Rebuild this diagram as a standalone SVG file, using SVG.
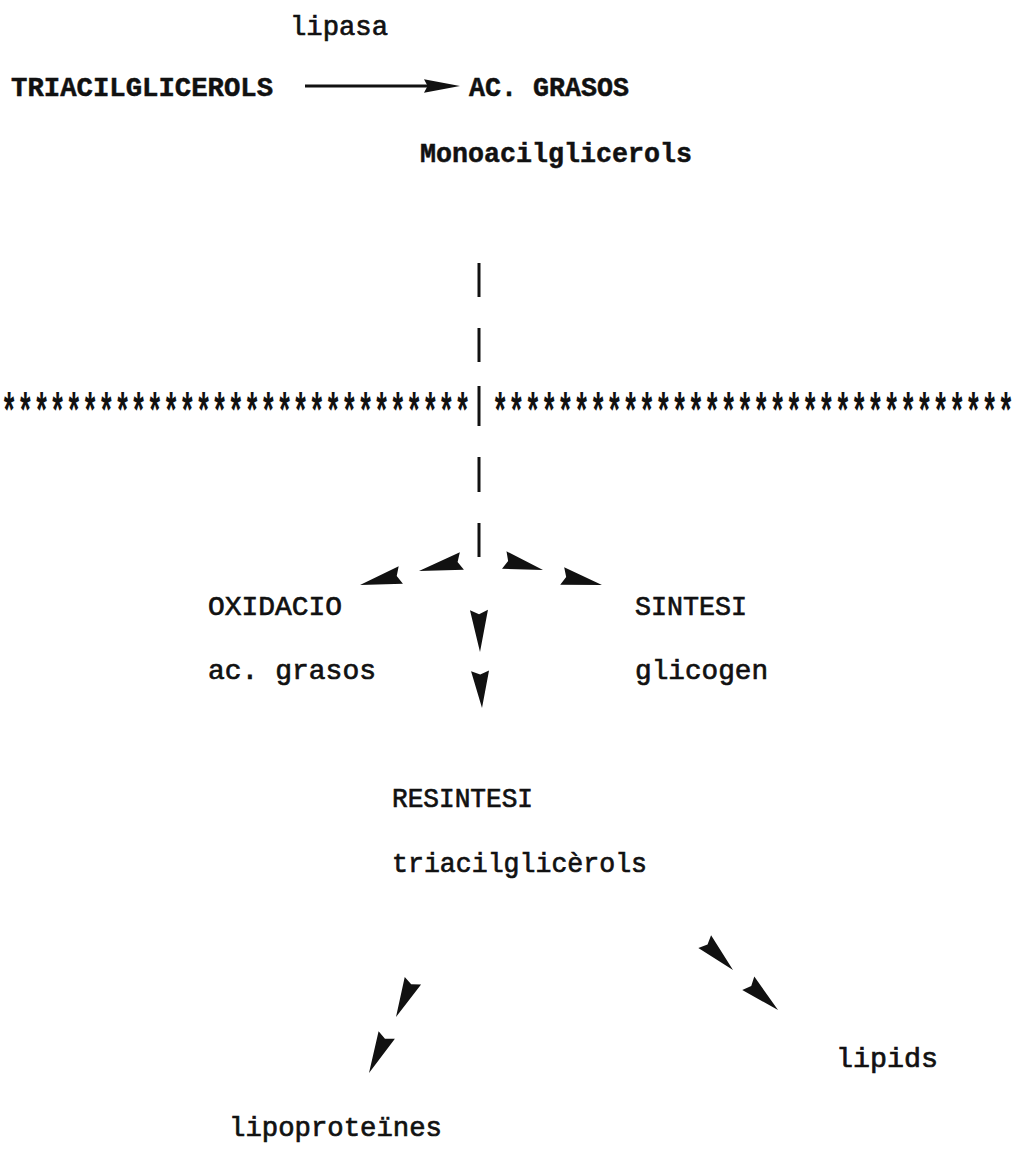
<svg xmlns="http://www.w3.org/2000/svg" xmlns:xlink="http://www.w3.org/1999/xlink" width="1024" height="1149" viewBox="0 0 1024 1149">
<style>
  .t { font-family: "Liberation Mono", "Courier New", monospace; font-size: 28px; fill: #111; stroke: #111; stroke-width: 0.7px; }
  .b { font-weight: bold; stroke-width: 0.5px; }
  .stars { font-family: "Liberation Mono", "Courier New", monospace; font-size: 50px; font-weight: bold; fill: #111; }
  .dash { stroke: #111; stroke-width: 3; fill: none; }
  .line { stroke: #111; stroke-width: 2.8; fill: none; }
</style>
<defs>
  <path id="ah" d="M0,0 L-40,-9 L-36,0 L-40,9 Z" fill="#111"/>
</defs>
<rect width="1024" height="1149" fill="#fff"/>

<g id="lipasa"><text class="t" x="290" y="35" textLength="98" lengthAdjust="spacingAndGlyphs">lipasa</text></g>
<g id="triacilglicerols"><text class="t b" x="11" y="96" textLength="262" lengthAdjust="spacingAndGlyphs">TRIACILGLICEROLS</text></g>
<g id="ac-grasos"><text class="t b" x="469" y="96" textLength="160" lengthAdjust="spacingAndGlyphs">AC. GRASOS</text></g>
<g id="monoacilglicerols"><text class="t b" x="420" y="162" textLength="272" lengthAdjust="spacingAndGlyphs">Monoacilglicerols</text></g>

<g id="separator">
  <text class="stars" transform="translate(1,428) scale(0.54,1)">*****************************</text>
  <text class="stars" transform="translate(492,428) scale(0.544,1)">********************************</text>
</g>

<g id="oxidacio"><text class="t" x="208" y="615" textLength="134" lengthAdjust="spacingAndGlyphs">OXIDACIO</text>
  <text class="t" x="208" y="679" textLength="168" lengthAdjust="spacingAndGlyphs">ac. grasos</text></g>
<g id="sintesi"><text class="t" x="635" y="615" textLength="112" lengthAdjust="spacingAndGlyphs">SINTESI</text>
  <text class="t" x="635" y="679" textLength="133" lengthAdjust="spacingAndGlyphs">glicogen</text></g>
<g id="resintesi"><text class="t" x="392" y="807" textLength="141" lengthAdjust="spacingAndGlyphs">RESINTESI</text>
  <text class="t" x="392" y="872" textLength="255" lengthAdjust="spacingAndGlyphs">triacilglicèrols</text></g>
<g id="lipids"><text class="t" x="836" y="1067" textLength="102" lengthAdjust="spacingAndGlyphs">lipids</text></g>
<g id="lipoproteines"><text class="t" x="229" y="1136" textLength="213" lengthAdjust="spacingAndGlyphs">lipoproteïnes</text></g>

<g id="connectors">
  <line class="line" x1="305" y1="86" x2="430" y2="86"/>
  <use xlink:href="#ah" transform="translate(460,86) scale(0.9,0.75)"/>
  <line class="dash" x1="479" y1="263" x2="479" y2="297"/>
  <line class="dash" x1="479" y1="328" x2="479" y2="362"/>
  <line class="dash" x1="479" y1="386" x2="479" y2="426"/>
  <line class="dash" x1="479" y1="457" x2="479" y2="492"/>
  <line class="dash" x1="479" y1="523" x2="479" y2="557"/>
  <use xlink:href="#ah" transform="translate(360,585) rotate(166.3) scale(1.05,1)"/>
  <use xlink:href="#ah" transform="translate(419,571) rotate(167) scale(1.1,1)"/>
  <use xlink:href="#ah" transform="translate(543,570) rotate(14.4) scale(1,1)"/>
  <use xlink:href="#ah" transform="translate(602,585) rotate(12.7) scale(1.02,1)"/>
  <use xlink:href="#ah" transform="translate(480,652) rotate(88.6) scale(1.05,1)"/>
  <use xlink:href="#ah" transform="translate(482,708) rotate(87) scale(0.93,1)"/>
  <use xlink:href="#ah" transform="translate(396,1017) rotate(115) scale(1,1)"/>
  <use xlink:href="#ah" transform="translate(369,1073) rotate(115) scale(1.05,1)"/>
  <use xlink:href="#ah" transform="translate(733,970) rotate(45) scale(1,1)"/>
  <use xlink:href="#ah" transform="translate(778,1010) rotate(42) scale(1,1)"/>
</g>
</svg>
